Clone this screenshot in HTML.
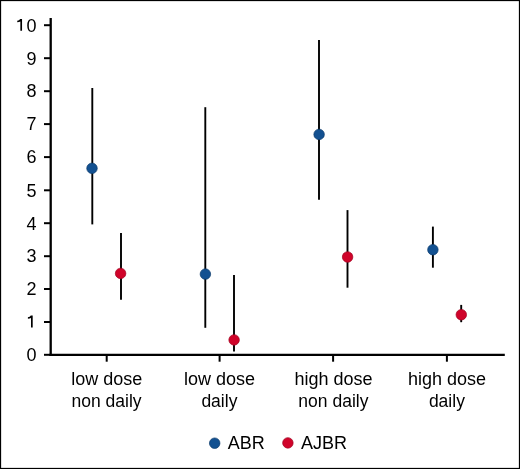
<!DOCTYPE html>
<html><head><meta charset="utf-8"><style>
html,body{margin:0;padding:0;background:#fff;}
svg{display:block;will-change:transform;}
text{font-family:"Liberation Sans",sans-serif;fill:#000;}
</style></head><body>
<svg width="520" height="469" viewBox="0 0 520 469">
<rect x="0" y="0" width="520" height="469" fill="#fff"/>
<rect x="0.55" y="0.55" width="518.9" height="467.9" fill="none" stroke="#000" stroke-width="1.15"/>
<!-- axes -->
<g stroke="#000" fill="none">
<line x1="50.7" y1="17.9" x2="50.7" y2="355.9" stroke-width="2.3"/>
<line x1="49.4" y1="354.8" x2="504.8" y2="354.8" stroke-width="2.2"/>
<g stroke-width="2">
<line x1="44" y1="25.2" x2="50" y2="25.2"/>
<line x1="44" y1="58.2" x2="50" y2="58.2"/>
<line x1="44" y1="91.2" x2="50" y2="91.2"/>
<line x1="44" y1="124.1" x2="50" y2="124.1"/>
<line x1="44" y1="157.1" x2="50" y2="157.1"/>
<line x1="44" y1="190.3" x2="50" y2="190.3"/>
<line x1="44" y1="223.2" x2="50" y2="223.2"/>
<line x1="44" y1="256.2" x2="50" y2="256.2"/>
<line x1="44" y1="289.0" x2="50" y2="289.0"/>
<line x1="44" y1="322.0" x2="50" y2="322.0"/>
<line x1="44" y1="354.8" x2="50" y2="354.8"/>
<line x1="106.7" y1="355" x2="106.7" y2="361.7"/>
<line x1="219.6" y1="355" x2="219.6" y2="361.7"/>
<line x1="333.1" y1="355" x2="333.1" y2="361.7"/>
<line x1="446.9" y1="355" x2="446.9" y2="361.7"/>
</g>
<!-- error bars -->
<g stroke-width="1.9">
<line x1="92.3" y1="88" x2="92.3" y2="224.4"/>
<line x1="121" y1="233" x2="121" y2="299.7"/>
<line x1="205.3" y1="107.2" x2="205.3" y2="327.8"/>
<line x1="234" y1="275.1" x2="234" y2="351.5"/>
<line x1="319" y1="39.9" x2="319" y2="199.8"/>
<line x1="347.5" y1="210.1" x2="347.5" y2="287.7"/>
<line x1="432.9" y1="226.6" x2="432.9" y2="267.7"/>
<line x1="461.2" y1="304.9" x2="461.2" y2="322.2"/>
</g>
</g>
<!-- dots -->
<g fill="#135191" stroke="#0c3b6c" stroke-width="0.7">
<circle cx="92" cy="168.3" r="5.25"/>
<circle cx="205.4" cy="274.1" r="5.25"/>
<circle cx="319.1" cy="134.4" r="5.25"/>
<circle cx="432.9" cy="249.7" r="5.25"/>
<circle cx="214.7" cy="443.2" r="5.25"/>
</g>
<g fill="#d0042a" stroke="#a0021f" stroke-width="0.7">
<circle cx="120.6" cy="273.4" r="5.25"/>
<circle cx="234.1" cy="339.9" r="5.25"/>
<circle cx="347.6" cy="257" r="5.25"/>
<circle cx="461.3" cy="314.7" r="5.25"/>
<circle cx="287.9" cy="442.9" r="5.25"/>
</g>
<!-- y labels -->
<g font-size="18" text-anchor="end">
<text x="36.5" y="31.5">0</text>
<text x="36.5" y="64.5">9</text>
<text x="36.5" y="97.4">8</text>
<text x="36.5" y="130.4">7</text>
<text x="36.5" y="163.3">6</text>
<text x="36.5" y="196.5">5</text>
<text x="36.5" y="229.5">4</text>
<text x="36.5" y="262.4">3</text>
<text x="36.5" y="295.2">2</text>
<text x="36.5" y="361.1">0</text>
</g>
<g fill="#000"><path d="M22.05,18.90 L22.05,30.80 L20.35,30.80 L20.35,21.50 Q19.15,22.10 17.25,22.20 L17.25,20.70 Q19.35,20.40 20.15,18.90 Z"/><path d="M32.70,315.50 L32.70,327.40 L31.00,327.40 L31.00,318.10 Q29.80,318.70 27.90,318.80 L27.90,317.30 Q30.00,317.00 30.80,315.50 Z"/></g>
<!-- x labels -->
<g font-size="17.5" text-anchor="middle">
<text x="106.8" y="384.5" font-size="18">low dose</text>
<text x="106.5" y="406.6">non daily</text>
<text x="219.5" y="384.5" font-size="18">low dose</text>
<text x="219.4" y="406.6">daily</text>
<text x="333.6" y="384.5" font-size="18">high dose</text>
<text x="333.4" y="406.6">non daily</text>
<text x="447.1" y="384.5" font-size="18">high dose</text>
<text x="446.9" y="406.6">daily</text>
</g>
<!-- legend -->
<g font-size="18">
<text x="227.8" y="448.6">ABR</text>
<text x="301" y="448.6">AJBR</text>
</g>
</svg>
</body></html>
